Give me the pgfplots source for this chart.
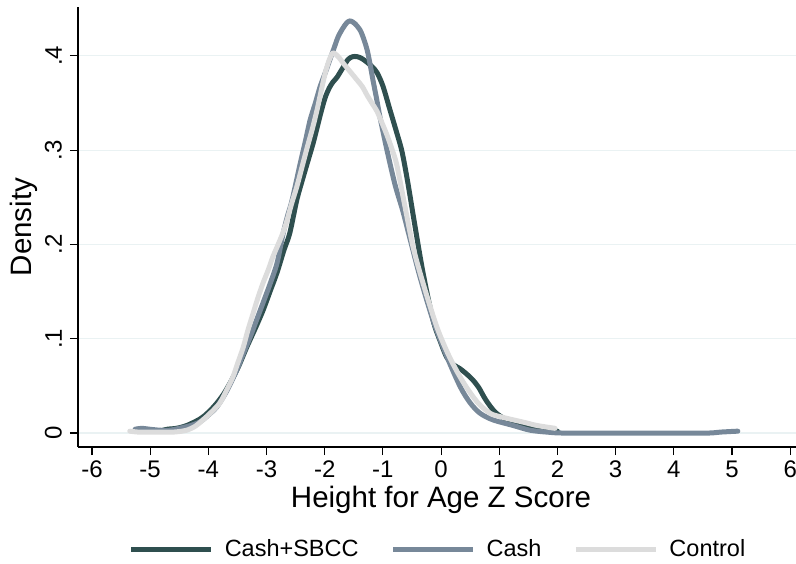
\documentclass[border=0pt]{standalone}
\usepackage{fontspec}
\setmainfont{Liberation Sans}
\usepackage{pgfplots}
\pgfplotsset{compat=1.18}
\definecolor{cdark}{HTML}{2F4F4F}
\definecolor{cgray}{HTML}{778899}
\definecolor{clight}{HTML}{DCDCDC}
\definecolor{cgrid}{HTML}{EAF2F3}
\begin{document}
\begin{tikzpicture}
\path[use as bounding box] (-78pt,-116pt) rectangle (718pt,447pt);
\begin{axis}[
  at={(0pt,0pt)}, anchor=south west,
  scale only axis, width=718pt, height=440pt,
  xmin=-6.24, xmax=6.1, ymin=-0.0148, ymax=0.4517,
  axis lines*=left, axis line style={-, black, line width=1.1pt},
  tick align=outside, major tick length=8pt,
  tick style={black, line width=1.1pt},
  xtick={-6,-5,-4,-3,-2,-1,0,1,2,3,4,5,6},
  xticklabels={-6,-5,-4,-3,-2,-1,0,1,2,3,4,5,6},
  ytick={0,0.1,0.2,0.3,0.4},
  yticklabels={0,.1,.2,.3,.4},
  ymajorgrids, grid style={cgrid, line width=1.1pt},
  xticklabel style={font=\fontsize{24}{28}\selectfont, anchor=north, inner xsep=0pt, inner ysep=6pt},
  yticklabel style={font=\fontsize{24}{28}\selectfont, rotate=90, anchor=south, inner xsep=0pt, inner ysep=8pt},
  every axis x label/.style={at={(axis description cs:0.5,0)}, anchor=base, yshift=-60pt, xshift=4pt, font=\fontsize{29.5}{33}\selectfont},
  every axis y label/.style={at={(axis description cs:0,0.5)}, rotate=90, anchor=base, yshift=46pt, font=\fontsize{29.5}{33}\selectfont},
  xlabel={Height for Age Z Score},
  ylabel={Density},
  legend columns=3,
  legend style={at={(0.5,-0.232)}, anchor=center, draw=none, fill=none,
    font=\fontsize{23.5}{27}\selectfont, nodes={inner sep=0pt},
    /tikz/every odd column/.append style={column sep=11pt},
    /tikz/every even column/.append style={column sep=32pt}},
  legend image code/.code={\draw[#1, line cap=butt] (0pt,0pt) -- (80pt,0pt);},
  every axis plot/.append style={line width=5pt, line cap=round, line join=round, smooth, tension=0.5},
]
\addplot[cdark] coordinates {
(-5.0,0.002) (-4.85,0.002) (-4.71,0.004) (-4.55,0.005) (-4.37,0.008) (-4.14,0.015) (-4.0,0.022) (-3.85,0.032) (-3.7,0.045) (-3.5,0.068) (-3.34,0.091) (-3.2,0.11) (-3.06,0.13) (-2.94,0.15) (-2.82,0.17) (-2.7,0.194) (-2.6,0.212) (-2.48,0.247) (-2.39,0.267) (-2.30,0.286) (-2.2,0.307) (-2.13,0.324) (-2.06,0.341) (-1.99,0.356) (-1.92,0.366) (-1.86,0.372) (-1.79,0.377) (-1.73,0.383) (-1.68,0.388) (-1.60,0.396) (-1.52,0.399) (-1.44,0.399) (-1.36,0.397) (-1.27,0.393) (-1.18,0.388) (-1.10,0.382) (-1.0,0.368) (-0.88,0.343) (-0.76,0.318) (-0.67,0.298) (-0.57,0.265) (-0.45,0.22) (-0.31,0.17) (-0.14,0.12) (0.0,0.095) (0.1,0.08) (0.2,0.073) (0.33,0.068) (0.45,0.062) (0.55,0.056) (0.65,0.048) (0.75,0.037) (0.85,0.028) (0.95,0.021) (1.1,0.015) (1.3,0.011) (1.5,0.008) (1.7,0.005) (1.9,0.003) (2.0,0.002)
};
\addlegendentry{Cash+SBCC}
\addplot[cgray] coordinates {
(-5.26,0.004) (-5.15,0.005) (-5.0,0.004) (-4.83,0.003) (-4.66,0.003) (-4.5,0.005) (-4.3,0.008) (-4.14,0.012) (-4.0,0.019) (-3.85,0.028) (-3.68,0.045) (-3.51,0.067) (-3.4,0.084) (-3.28,0.102) (-3.17,0.12) (-3.06,0.138) (-2.94,0.158) (-2.82,0.18) (-2.72,0.21) (-2.64,0.23) (-2.56,0.247) (-2.42,0.286) (-2.33,0.31) (-2.25,0.332) (-2.16,0.35) (-2.08,0.367) (-1.99,0.382) (-1.91,0.396) (-1.84,0.408) (-1.77,0.420) (-1.69,0.429) (-1.62,0.435) (-1.56,0.437) (-1.48,0.434) (-1.39,0.427) (-1.33,0.418) (-1.27,0.406) (-1.22,0.391) (-1.17,0.374) (-1.11,0.355) (-1.05,0.335) (-0.93,0.300) (-0.79,0.263) (-0.66,0.236) (-0.53,0.205) (-0.36,0.165) (-0.14,0.12) (0.1,0.081) (0.33,0.049) (0.5,0.032) (0.67,0.021) (0.89,0.014) (1.24,0.008) (1.53,0.003) (1.82,0.001) (2.1,0.0) (3,0.0) (4,0.0) (4.6,0.0) (4.8,0.001) (5.1,0.002)
};
\addlegendentry{Cash}
\addplot[clight] coordinates {
(-5.35,0.002) (-5.2,0.001) (-5.0,0.001) (-4.8,0.001) (-4.6,0.001) (-4.45,0.002) (-4.37,0.003) (-4.23,0.007) (-4.09,0.014) (-3.95,0.022) (-3.80,0.032) (-3.69,0.045) (-3.58,0.059) (-3.49,0.075) (-3.40,0.091) (-3.32,0.109) (-3.23,0.127) (-3.15,0.143) (-3.06,0.159) (-2.97,0.173) (-2.89,0.187) (-2.80,0.20) (-2.72,0.212) (-2.65,0.225) (-2.57,0.243) (-2.48,0.261) (-2.39,0.282) (-2.30,0.303) (-2.21,0.323) (-2.13,0.343) (-2.06,0.363) (-1.99,0.382) (-1.92,0.396) (-1.86,0.403) (-1.80,0.401) (-1.74,0.397) (-1.68,0.392) (-1.56,0.383) (-1.44,0.374) (-1.35,0.367) (-1.27,0.358) (-1.18,0.349) (-1.10,0.341) (-1.01,0.328) (-0.93,0.316) (-0.85,0.302) (-0.76,0.284) (-0.62,0.24) (-0.48,0.197) (-0.31,0.159) (-0.07,0.112) (0.15,0.08) (0.38,0.054) (0.62,0.033) (0.84,0.021) (1.04,0.017) (1.24,0.014) (1.45,0.011) (1.65,0.008) (1.96,0.005)
};
\addlegendentry{Control}
\end{axis}
\end{tikzpicture}
\end{document}
